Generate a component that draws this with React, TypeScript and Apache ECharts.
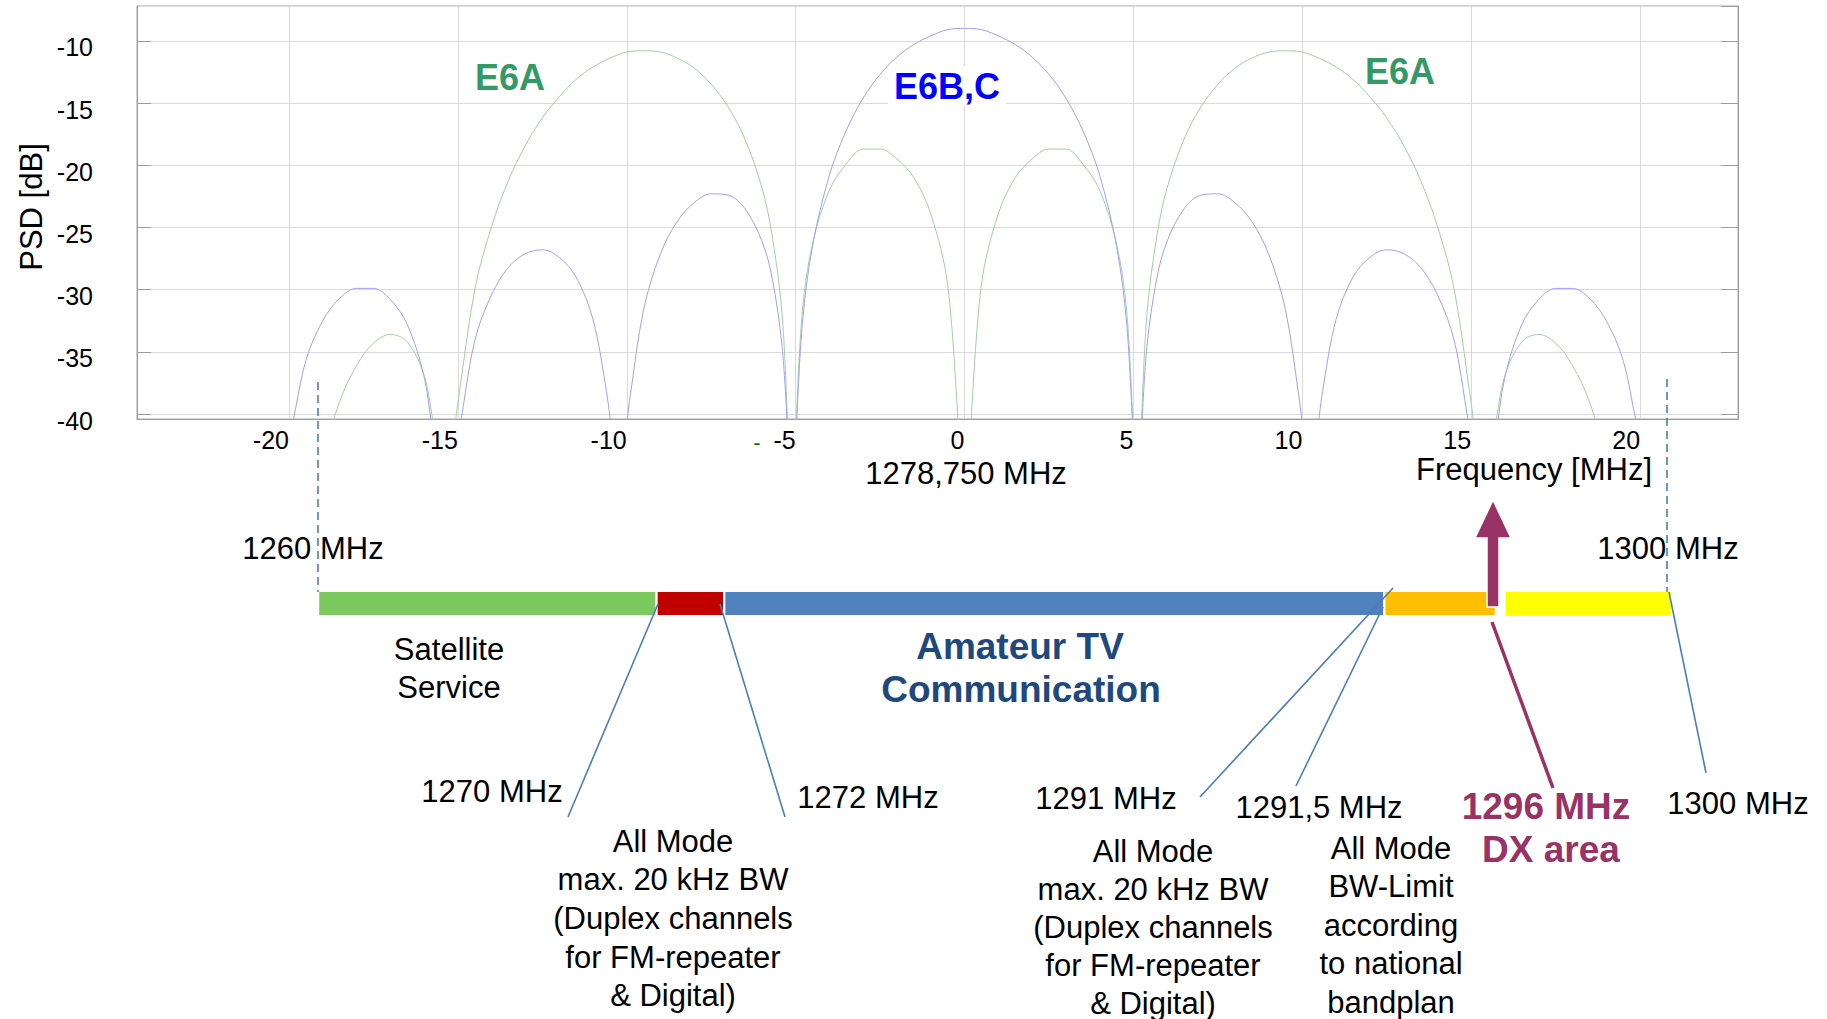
import React, { useEffect, useRef } from 'react';
import * as echarts from 'echarts';

// PSD curves (frequency offset from 1278.750 MHz, PSD in dB)
const freqBlue = [
  -20.46, -20, -19.5, -19, -18.5, -18, -17.5, -17, -16.5, -16, -15.7, -15.345, -15, -14.5, -14, -13.5, -13, -12.5, -12, -11.5,
  -11, -10.6, -10.23, -9.9, -9.5, -9, -8.5, -8, -7.5, -7, -6.5, -6, -5.7, -5.4, -5.115, -4.8, -4.5, -4, -3.5, -3, -2.5, -2, -1.5,
  -1, -0.5, 0, 0.5, 1, 1.5, 2, 2.5, 3, 3.5, 4, 4.5, 4.8, 5.115, 5.4, 5.7, 6, 6.5, 7, 7.5, 8, 8.5, 9, 9.5, 9.9, 10.23, 10.6, 11,
  11.5, 12, 12.5, 13, 13.5, 14, 14.5, 15, 15.345, 15.7, 16, 16.5, 17, 17.5, 18, 18.5, 19, 19.5, 20, 20.46,
];
const psdBlue = [
  -45, -41.9, -35.7, -32.5, -30.7, -29.9, -29.9, -30.8, -32.8, -37.0, -42.0, -45, -41.8, -34.1, -30.4, -28.2, -27.1, -26.8, -27.4, -29.0,
  -32.4, -38.2, -45, -38.6, -31.6, -27.1, -24.5, -23.0, -22.3, -22.4, -23.5, -26.1, -29.0, -34.6, -45, -32.7, -26.5, -20.8, -17.2, -14.6, -12.7, -11.3, -10.3,
  -9.6, -9.1, -9.0, -9.1, -9.6, -10.3, -11.3, -12.7, -14.6, -17.2, -20.8, -26.5, -32.7, -45, -34.6, -29.0, -26.1, -23.5, -22.4, -22.3, -23.0, -24.5, -27.1, -31.6, -38.6, -45, -38.2, -32.4,
  -29.0, -27.4, -26.8, -27.1, -28.2, -30.4, -34.1, -41.8, -45, -42.0, -37.0, -32.8, -30.8, -29.9, -29.9, -30.7, -32.5, -35.7, -41.9, -45,
];
const freqGreen = [
  -19, -18.5, -18, -17.5, -17, -16.5, -16, -15.7, -15.345, -15, -14.5, -14, -13.5, -13, -12.5, -12, -11.5, -11, -10.5, -10,
  -9.5, -9, -8.5, -8, -7.5, -7, -6.5, -6, -5.7, -5.4, -5.115, -4.8, -4.5, -4, -3.5, -3, -2.5, -2, -1.5, -1, -0.5, 0,
  0.5, 1, 1.5, 2, 2.5, 3, 3.5, 4, 4.5, 4.8, 5.115, 5.4, 5.7, 6, 6.5, 7, 7.5, 8, 8.5, 9, 9.5, 10, 10.5, 11, 11.5, 12,
  12.5, 13, 13.5, 14, 14.5, 15, 15.345, 15.7, 16, 16.5, 17, 17.5, 18, 18.5, 19,
];
const psdGreen = [
  -43.5, -39.0, -36.1, -34.3, -33.6, -34.2, -36.9, -41.1, -45, -39.1, -30.0, -24.9, -21.2, -18.4, -16.2, -14.5, -13.1, -12.1, -11.4, -10.9,
  -10.8, -10.9, -11.4, -12.2, -13.5, -15.3, -17.9, -21.8, -25.6, -32.0, -45, -31.7, -26.3, -22.0, -19.9, -18.7, -18.7, -19.5, -21.0, -23.9, -29.6, -45,
  -29.6, -23.9, -21.0, -19.5, -18.7, -18.7, -19.9, -22.0, -26.3, -31.7, -45, -32.0, -25.6, -21.8, -17.9, -15.3, -13.5, -12.2, -11.4, -10.9, -10.8, -10.9, -11.4, -12.1, -13.1, -14.5,
  -16.2, -18.4, -21.2, -24.9, -30.0, -39.1, -45, -41.1, -36.9, -34.2, -33.6, -34.3, -36.1, -39.0, -43.5,
];

// Band plan segments (MHz)
const bandStart = [1260, 1270, 1272, 1291.5, 1295.05];
const bandEnd = [1270, 1272, 1291.5, 1294.8, 1300];
const bandColors = ['#7cc95f', '#c00000', '#4f81bd', '#ffbf00', '#ffff00'];

const FONT = '"Liberation Sans", Arial, Helvetica, sans-serif';
const LINE_BLUE = '#4a7ebb';
const MAGENTA = '#993366';

function txt(text: string, x: number, y: number, o: any = {}) {
  return {
    type: 'text',
    x,
    y,
    z: 50,
    rotation: o.rotation || 0,
    style: {
      text,
      fill: o.color || '#000',
      fontSize: o.size || 31,
      fontFamily: FONT,
      fontWeight: o.bold ? 'bold' : 'normal',
      align: o.align || 'center',
      textAlign: o.align || 'center',
      verticalAlign: o.va || 'middle',
      textVerticalAlign: o.va || 'middle',
      lineHeight: o.lh || undefined,
      backgroundColor: o.bg || undefined,
      padding: o.pad || undefined,
    },
  };
}

function seg(x1: number, y1: number, x2: number, y2: number, color: string, w: number, dash?: number[]) {
  return {
    type: 'line',
    z: 40,
    shape: { x1, y1, x2, y2 },
    style: { stroke: color, lineWidth: w, lineDash: dash || null },
  };
}

export default function App() {
  const ref = useRef<HTMLDivElement>(null);
  useEffect(() => {
    const chart = echarts.init(ref.current as HTMLDivElement, null, { renderer: 'svg' });
    const axisGray = '#9d9d9d';
    const option: any = {
      animation: false,
      backgroundColor: '#ffffff',
      grid: [
        { left: 137, top: 6, width: 1601, height: 413, show: true, borderColor: '#a6a6a6', borderWidth: 1 },
        { left: 318, top: 590.5, width: 1354, height: 26 },
      ],
      xAxis: [
        {
          type: 'value', gridIndex: 0, min: -24.5, max: 22.9, minInterval: 5, maxInterval: 5, splitNumber: 9,
          axisLine: { show: true, onZero: false, lineStyle: { color: axisGray, width: 1 } },
          axisTick: { show: false },
          axisLabel: {
            show: true, color: '#000', fontSize: 25, fontFamily: FONT, align: 'right', margin: 8,
            showMinLabel: false, showMaxLabel: false,
          },
          splitLine: { show: true, lineStyle: { color: '#dadada', width: 1 } },
        },
        { type: 'value', gridIndex: 1, min: 1260, max: 1300, show: false },
      ],
      yAxis: [
        {
          type: 'value', gridIndex: 0, position: 'left', min: -40.4, max: -7.2, minInterval: 5, maxInterval: 5, splitNumber: 6,
          axisLine: { show: true, onZero: false, lineStyle: { color: axisGray } },
          axisTick: { show: true, inside: true, length: 14, lineStyle: { color: axisGray } },
          axisLabel: {
            color: '#000', fontSize: 25, fontFamily: FONT, margin: 44, align: 'right', verticalAlign: 'top',
            lineHeight: 13, showMinLabel: false, showMaxLabel: false,
          },
          splitLine: { show: true, lineStyle: { color: '#dadada', width: 1 } },
        },
        {
          type: 'value', gridIndex: 0, position: 'right', min: -40.4, max: -7.2, minInterval: 5, maxInterval: 5, splitNumber: 6,
          axisLine: { show: true, onZero: false, lineStyle: { color: axisGray } },
          axisTick: { show: true, inside: true, length: 17, lineStyle: { color: axisGray } },
          axisLabel: { show: false },
          splitLine: { show: false },
        },
        { type: 'value', gridIndex: 1, min: 0, max: 1, show: false },
      ],
      series: [
        {
          type: 'line', name: 'E6A', xAxisIndex: 0, yAxisIndex: 0, clip: true, smooth: 0.35, symbol: 'none',
          lineStyle: { color: '#9fd19f', width: 1 },
          data: freqGreen.map((f, i) => [f, psdGreen[i]]),
        },
        {
          type: 'line', name: 'E6B,C', xAxisIndex: 0, yAxisIndex: 0, clip: true, smooth: 0.35, symbol: 'none',
          lineStyle: { color: '#a0a0f4', width: 1 },
          data: freqBlue.map((f, i) => [f, psdBlue[i]]),
        },
        {
          type: 'custom', name: 'bands', xAxisIndex: 1, yAxisIndex: 2, clip: false,
          encode: { x: [0, 1], y: 2 },
          data: bandStart.map((s, i) => [s, bandEnd[i], 0.5]),
          renderItem: (params: any, api: any) => {
            const a = api.coord([api.value(0), 1]);
            const b = api.coord([api.value(1), 0]);
            return {
              type: 'rect',
              shape: { x: a[0] + 1.2, y: a[1] + 1.5, width: b[0] - a[0] - 2.4, height: b[1] - a[1] - 3 },
              style: { fill: bandColors[params.dataIndex] },
            };
          },
        },
      ],
      graphic: [
        txt('PSD [dB]', 31, 207, { rotation: Math.PI / 2, size: 31 }),
        txt('E6A', 510, 77, { bold: true, size: 36, color: '#339966' }),
        txt('E6B,C', 947, 86, { bold: true, size: 36, color: '#0000ff', bg: '#ffffff', pad: [2, 6, 2, 6] }),
        txt('E6A', 1400, 71, { bold: true, size: 36, color: '#339966' }),
        txt('-', 757, 442, { size: 22, color: '#008000' }),
        txt('1278,750 MHz', 966, 473),
        txt('Frequency [MHz]', 1534, 469),
        // dashed markers
        seg(318, 382, 318, 592, LINE_BLUE, 1.6, [8, 5]),
        seg(1667, 379, 1667, 592, LINE_BLUE, 1.6, [8, 5]),
        txt('1260 MHz', 313, 548),
        txt('1300 MHz', 1668, 548),
        txt('Satellite', 449, 649),
        txt('Service', 449, 687),
        txt('Amateur TV', 1020, 646, { bold: true, size: 37, color: '#1f497d' }),
        txt('Communication', 1021, 689, { bold: true, size: 37, color: '#1f497d' }),
        // connector lines
        seg(658, 604, 568, 817, LINE_BLUE, 1.6),
        seg(720, 604, 785, 817, LINE_BLUE, 1.6),
        seg(1393, 588, 1200, 797, LINE_BLUE, 1.6),
        seg(1383, 607, 1296, 786, LINE_BLUE, 1.6),
        seg(1669, 592, 1706, 773, LINE_BLUE, 1.6),
        seg(1492, 622, 1553, 788, MAGENTA, 3.5),
        {
          type: 'polygon', z: 60,
          shape: { points: [[1493, 500], [1511, 538], [1499, 538], [1499, 607], [1487, 607], [1487, 538], [1475, 538]] },
          style: { fill: MAGENTA, stroke: '#ffffff', lineWidth: 1.5 },
        },
        txt('1270 MHz', 492, 791),
        txt('1272 MHz', 868, 797),
        txt('1291 MHz', 1106, 798),
        txt('1291,5 MHz', 1319, 807),
        txt('1296 MHz', 1546, 806, { bold: true, size: 37, color: MAGENTA }),
        txt('DX area', 1551, 849, { bold: true, size: 37, color: MAGENTA }),
        txt('1300 MHz', 1738, 803),
        txt('All Mode\nmax. 20 kHz BW\n(Duplex channels\nfor FM-repeater\n& Digital)', 673, 822, { va: 'top', lh: 38.6 }),
        txt('All Mode\nmax. 20 kHz BW\n(Duplex channels\nfor FM-repeater\n& Digital)', 1153, 832, { va: 'top', lh: 38 }),
        txt('All Mode\nBW-Limit\naccording\nto national\nbandplan', 1391, 829, { va: 'top', lh: 38.5 }),
      ],
    };
    chart.setOption(option);
    return () => chart.dispose();
  }, []);
  return (
    <div
      ref={ref}
      style={{ position: 'fixed', left: 0, top: 0, width: 1827, height: 1019, background: '#ffffff' }}
    />
  );
}
